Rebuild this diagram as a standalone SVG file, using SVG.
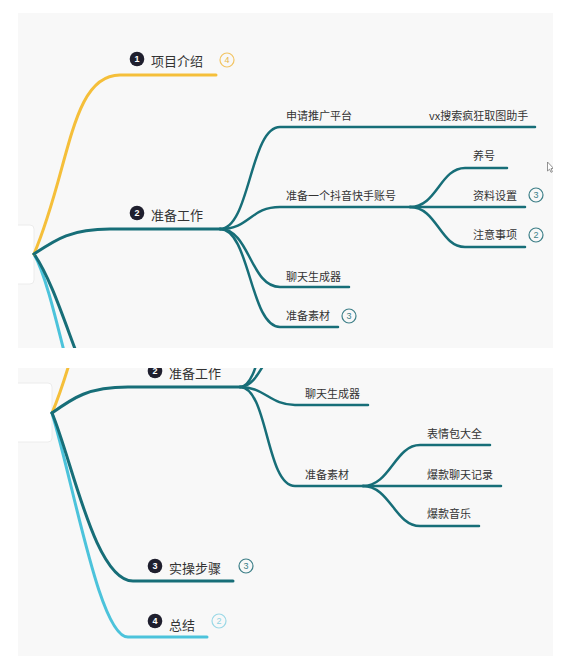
<svg xmlns="http://www.w3.org/2000/svg" width="563" height="662" viewBox="0 0 563 662">
<style>
.t{font-family:"Noto Sans CJK SC","Liberation Sans",sans-serif;fill:#333;}
.m{font-size:13px;}
.s{font-size:11px;}
.dk{fill:none;stroke:#176e78;stroke-linecap:round;}
.cy{fill:none;stroke:#4cc3db;stroke-width:3;stroke-linecap:round;}
.yl{fill:none;stroke:#f5bf3a;stroke-width:3;stroke-linecap:round;}
.w3{stroke-width:3;}
.w2{stroke-width:2.5;}
.num{fill:#1f1f2e;}
.numt{font-family:"Liberation Sans",sans-serif;font-size:9px;font-weight:bold;fill:#fff;text-anchor:middle;}
.bd{fill:none;stroke-width:1.2;}
.bdt{font-family:"Liberation Sans",sans-serif;font-size:9px;text-anchor:middle;}
.panel{fill:#f8f8f8;}
.root{fill:#fff;stroke:#ececec;stroke-width:1;}
</style>
<defs>
<clipPath id="clipTop"><rect x="18" y="13" width="535" height="335"/></clipPath>
<clipPath id="clipBot"><rect x="18" y="368" width="535" height="288"/></clipPath>
</defs>
<rect width="563" height="662" fill="#fff"/>
<rect class="panel" x="18" y="13" width="535" height="335"/>
<rect class="panel" x="18" y="368" width="535" height="288"/>

<!-- TOP PANEL -->
<g id="top-panel" clip-path="url(#clipTop)">
  <g id="top-root"><rect class="root" x="8" y="225" width="26" height="59" rx="4"/></g>
  <g id="top-connectors">
    <path class="cy" d="M34,254 C60,300 80,470 115,470"/>
    <path class="dk w3" d="M34,254 C66,300 88,420 120,420"/>
    <path class="yl" d="M34,254 C70,170 70,75 120,75 L216,75"/>
    <path class="dk w3" d="M34,254 C55,240 70,229 110,229 L220,229"/>
    <path class="dk w2" d="M220,229 C250,229 250,127 280,127 L535,127"/>
    <path class="dk w2" d="M220,229 C250,229 250,207 280,207 L410,207"/>
    <path class="dk w2" d="M220,229 C250,229 250,287 280,287 L349,287"/>
    <path class="dk w2" d="M220,229 C250,229 250,327 280,327 L338,327"/>
    <path class="dk w2" d="M410,207 C437,207 440,168 465,168 L507,168"/>
    <path class="dk w2" d="M410,207 L525,207"/>
    <path class="dk w2" d="M410,207 C437,207 440,247 465,247 L525,247"/>
  </g>
  <g id="top-n1">
    <circle class="num" cx="137" cy="59" r="7.3"/><text class="numt" x="137" y="62.3">1</text>
    <text class="t m" x="151" y="66">项目介绍</text>
    <circle class="bd" cx="227" cy="60" r="7" stroke="#f2c463"/><text class="bdt" x="227" y="63.2" fill="#e8b64a">4</text>
  </g>
  <g id="top-n2">
    <circle class="num" cx="137" cy="213" r="7.3"/><text class="numt" x="137" y="216.3">2</text>
    <text class="t m" x="151" y="220">准备工作</text>
  </g>
  <g id="top-n21"><text class="t s" x="286" y="120">申请推广平台</text></g>
  <g id="top-n211"><text class="t s" x="429" y="120">vx搜索疯狂取图助手</text></g>
  <g id="top-n22"><text class="t s" x="286" y="200">准备一个抖音快手账号</text></g>
  <g id="top-n221"><text class="t s" x="473" y="160">养号</text></g>
  <g id="top-n222"><text class="t s" x="473" y="200">资料设置</text>
    <circle class="bd" cx="536" cy="195" r="7" stroke="#3d7f88"/><text class="bdt" x="536" y="198.2" fill="#3d7f88">3</text></g>
  <g id="top-n223"><text class="t s" x="473" y="239">注意事项</text>
    <circle class="bd" cx="536" cy="235" r="7" stroke="#3d7f88"/><text class="bdt" x="536" y="238.2" fill="#3d7f88">2</text></g>
  <g id="top-n23"><text class="t s" x="286" y="281">聊天生成器</text></g>
  <g id="top-n24"><text class="t s" x="286" y="320">准备素材</text>
    <circle class="bd" cx="349" cy="316" r="7" stroke="#3d7f88"/><text class="bdt" x="349" y="319.2" fill="#3d7f88">3</text></g>
  <g id="cursor"><path d="M547.5,162 L547.5,171 L549.6,169.2 L551,172.3 L552.4,171.7 L551,168.6 L553.6,168.4 Z" fill="#fff" stroke="#777" stroke-width="0.8" stroke-linejoin="round"/></g>
</g>

<!-- BOTTOM PANEL -->
<g id="bottom-panel" clip-path="url(#clipBot)">
  <g id="bot-root"><rect class="root" x="8" y="383" width="44" height="59" rx="4"/></g>
  <g id="bot-connectors">
    <path class="yl" d="M52,413 C88,328.5 88,233.5 138,233.5"/>
    <path class="cy" d="M52,413 C75,490 100,637 128,637 L207,637"/>
    <path class="dk w3" d="M52,413 C72,460 95,581 133,581 L233,581"/>
    <path class="dk w3" d="M52,413 C73,398 88,387 128,387 L240,387"/>
    <path class="dk w2" d="M240,387 C262,387 262,300 290,300"/>
    <path class="dk w2" d="M240,387 C262,387 266,340 292,340"/>
    <path class="dk w2" d="M240,387 C265,387 270,405 295,405 L368,405"/>
    <path class="dk w2" d="M240,387 C268,387 266,486 295,486 L363,486"/>
    <path class="dk w2" d="M363,486 C390,486 395,445 420,445 L490,445"/>
    <path class="dk w2" d="M363,486 L501,486"/>
    <path class="dk w2" d="M363,486 C390,486 395,526 420,526 L479,526"/>
  </g>
  <g id="bot-n2">
    <circle class="num" cx="155" cy="371" r="7.3"/><text class="numt" x="155" y="374.3">2</text>
    <text class="t m" x="169" y="378">准备工作</text>
  </g>
  <g id="bot-n23"><text class="t s" x="305" y="398">聊天生成器</text></g>
  <g id="bot-n24"><text class="t s" x="305" y="479">准备素材</text></g>
  <g id="bot-n241"><text class="t s" x="427" y="438">表情包大全</text></g>
  <g id="bot-n242"><text class="t s" x="427" y="479">爆款聊天记录</text></g>
  <g id="bot-n243"><text class="t s" x="427" y="518">爆款音乐</text></g>
  <g id="bot-n3">
    <circle class="num" cx="155" cy="566" r="7.3"/><text class="numt" x="155" y="569.3">3</text>
    <text class="t m" x="169" y="573">实操步骤</text>
    <circle class="bd" cx="246" cy="566" r="7" stroke="#3d7f88"/><text class="bdt" x="246" y="569.2" fill="#3d7f88">3</text>
  </g>
  <g id="bot-n4">
    <circle class="num" cx="155" cy="621" r="7.3"/><text class="numt" x="155" y="624.3">4</text>
    <text class="t m" x="169" y="630">总结</text>
    <circle class="bd" cx="219" cy="621" r="7" stroke="#9ad8e6"/><text class="bdt" x="219" y="624.2" fill="#8fd3e3">2</text>
  </g>
</g>
</svg>
